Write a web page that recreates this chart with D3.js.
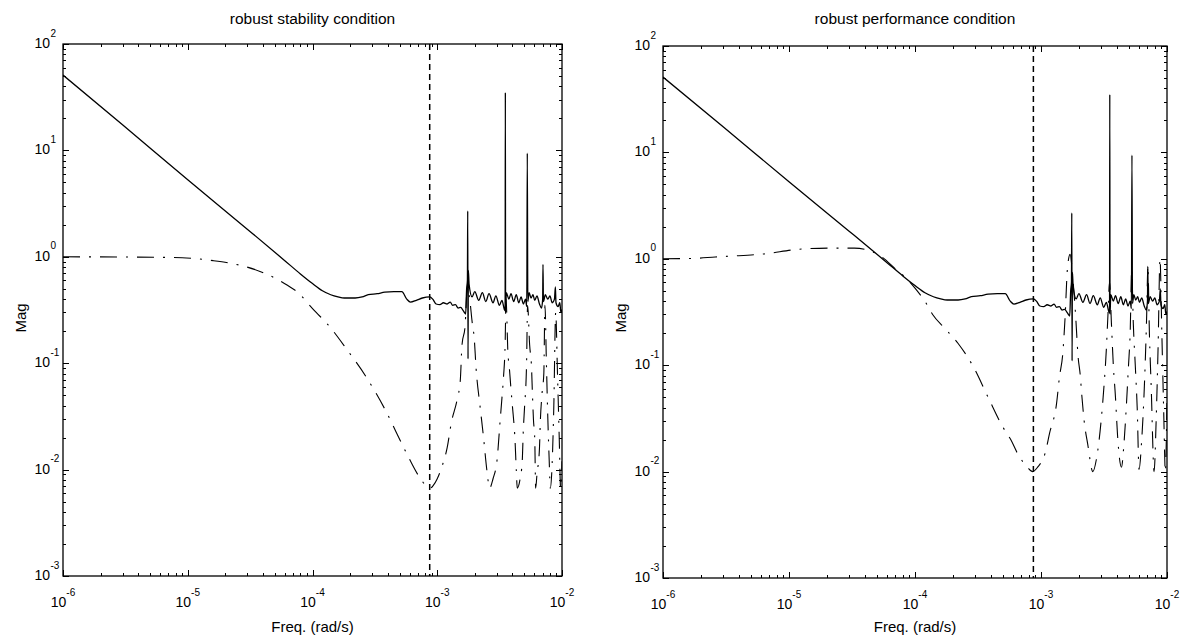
<!DOCTYPE html>
<html>
<head>
<meta charset="utf-8">
<script src="https://cdn.jsdelivr.net/npm/d3@7"></script>
<style>
    body { margin: 0; background: #fff; }
    svg { display: block; font-family: "Liberation Sans", Arial, sans-serif; }
</style>
</head>
<body>
<div id="chart"></div>
<script>
// [freq (rad/s), magnitude] pairs
// solid curve, same in both panels
const solidCurve = [
    [1e-6, 51], [3e-6, 17.4], [1e-5, 5.3], [3e-5, 1.82], [6e-5, 0.92], [8e-5, 0.69],
    [1e-4, 0.56], [1.2e-4, 0.48], [1.4e-4, 0.44], [1.6e-4, 0.42], [1.8e-4, 0.41],
    [2.2e-4, 0.41], [2.5e-4, 0.42], [2.8e-4, 0.44], [3.3e-4, 0.45], [3.8e-4, 0.465],
    [4.5e-4, 0.47], [5.2e-4, 0.47], [5.7e-4, 0.40], [6.1e-4, 0.375], [6.8e-4, 0.39],
    [7.6e-4, 0.41], [8.7e-4, 0.42], [9.2e-4, 0.40], [9.8e-4, 0.36], [1.05e-3, 0.355],
    [1.12e-3, 0.37], [1.2e-3, 0.36], [1.27e-3, 0.375], [1.33e-3, 0.35], [1.4e-3, 0.355],
    [1.47e-3, 0.33], [1.54e-3, 0.335], [1.62e-3, 0.31], [1.69e-3, 0.29], [1.72e-3, 0.5],
    [1.745e-3, 0.6], [1.755e-3, 2.7], [1.765e-3, 0.11], [1.775e-3, 0.75], [1.8e-3, 0.55],
    [1.9e-3, 0.42], [2.0e-3, 0.47], [2.15e-3, 0.39], [2.3e-3, 0.46], [2.45e-3, 0.38],
    [2.6e-3, 0.45], [2.8e-3, 0.37], [2.95e-3, 0.43], [3.15e-3, 0.35], [3.3e-3, 0.39],
    [3.45e-3, 0.32], [3.5e-3, 0.31], [3.515e-3, 35], [3.53e-3, 0.30], [3.58e-3, 0.46],
    [3.75e-3, 0.40], [3.9e-3, 0.45], [4.1e-3, 0.38], [4.3e-3, 0.44], [4.5e-3, 0.37],
    [4.7e-3, 0.42], [4.9e-3, 0.36], [5.1e-3, 0.40], [5.22e-3, 0.34], [5.27e-3, 9.4],
    [5.32e-3, 0.38], [5.45e-3, 0.46], [5.65e-3, 0.41], [5.85e-3, 0.44], [6.05e-3, 0.39],
    [6.3e-3, 0.43], [6.6e-3, 0.36], [6.85e-3, 0.33], [7.0e-3, 0.40], [7.04e-3, 0.85],
    [7.1e-3, 0.38], [7.35e-3, 0.44], [7.7e-3, 0.40], [8.0e-3, 0.43], [8.35e-3, 0.37],
    [8.7e-3, 0.40], [8.85e-3, 0.52], [8.95e-3, 0.37], [9.3e-3, 0.34], [9.6e-3, 0.37],
    [9.8e-3, 0.30], [1e-2, 0.32]
];

// dash-dot curve, robust stability panel
const stabilityDashDot = [
    [1e-6, 1.0], [3e-6, 0.995], [9e-6, 0.98], [1.6e-5, 0.92], [2.2e-5, 0.87], [3e-5, 0.8],
    [4.5e-5, 0.67], [6.3e-5, 0.54], [8e-5, 0.44], [9.1e-5, 0.37], [1.07e-4, 0.30],
    [1.29e-4, 0.24], [1.9e-4, 0.133], [2.7e-4, 0.074], [3.85e-4, 0.036], [5.5e-4, 0.0153],
    [7.2e-4, 0.0085], [8.2e-4, 0.0070], [8.8e-4, 0.0067], [9.3e-4, 0.0071], [1.0e-3, 0.0082],
    [1.1e-3, 0.011], [1.2e-3, 0.016], [1.3e-3, 0.028], [1.44e-3, 0.045], [1.53e-3, 0.069],
    [1.58e-3, 0.15], [1.67e-3, 0.22], [1.74e-3, 0.5], [1.82e-3, 0.4], [1.9e-3, 0.25],
    [1.98e-3, 0.17], [2.05e-3, 0.088], [2.2e-3, 0.04], [2.35e-3, 0.02], [2.5e-3, 0.0098],
    [2.63e-3, 0.0067], [2.8e-3, 0.0082], [3.02e-3, 0.0125], [3.2e-3, 0.03], [3.3e-3, 0.047],
    [3.4e-3, 0.075], [3.5e-3, 0.15], [3.56e-3, 0.4], [3.68e-3, 0.13], [3.8e-3, 0.085],
    [3.9e-3, 0.057], [4.0e-3, 0.04], [4.2e-3, 0.019], [4.3e-3, 0.01], [4.38e-3, 0.0067],
    [4.6e-3, 0.008], [4.8e-3, 0.012], [4.9e-3, 0.024], [5.0e-3, 0.037], [5.2e-3, 0.1],
    [5.3e-3, 0.35], [5.5e-3, 0.15], [5.7e-3, 0.09], [5.8e-3, 0.05], [5.9e-3, 0.03],
    [6.05e-3, 0.019], [6.15e-3, 0.0067], [6.3e-3, 0.009], [6.6e-3, 0.016], [6.7e-3, 0.028],
    [6.9e-3, 0.05], [7.15e-3, 0.08], [7.3e-3, 0.35], [7.5e-3, 0.1], [7.7e-3, 0.03],
    [7.9e-3, 0.012], [8.05e-3, 0.0067], [8.3e-3, 0.01], [8.6e-3, 0.04], [8.9e-3, 0.3],
    [9.2e-3, 0.08], [9.5e-3, 0.02], [9.75e-3, 0.0067], [1e-2, 0.012]
];

// dash-dot curve, robust performance panel
const performanceDashDot = [
    [1e-6, 1.0], [1.8e-6, 1.01], [2.6e-6, 1.04], [3.5e-6, 1.06], [6.3e-6, 1.11], [1.2e-5, 1.23],
    [2.1e-5, 1.26], [3.3e-5, 1.26], [4.3e-5, 1.2], [5.4e-5, 1.05], [7.1e-5, 0.79],
    [8.5e-5, 0.66], [1.0e-4, 0.53], [1.23e-4, 0.38], [1.38e-4, 0.30], [1.74e-4, 0.22],
    [2.2e-4, 0.16], [2.9e-4, 0.097], [3.8e-4, 0.05], [5.0e-4, 0.026], [5.75e-4, 0.02],
    [6.6e-4, 0.0144], [7.8e-4, 0.011], [8.6e-4, 0.01], [9.4e-4, 0.011], [1.08e-3, 0.015],
    [1.17e-3, 0.023], [1.33e-3, 0.044], [1.4e-3, 0.077], [1.49e-3, 0.13], [1.55e-3, 0.27],
    [1.62e-3, 0.8], [1.7e-3, 1.1], [1.8e-3, 0.6], [1.88e-3, 0.3], [1.97e-3, 0.12],
    [2.05e-3, 0.08], [2.1e-3, 0.055], [2.2e-3, 0.03], [2.35e-3, 0.018], [2.58e-3, 0.01],
    [2.75e-3, 0.013], [3.0e-3, 0.03], [3.15e-3, 0.06], [3.3e-3, 0.14], [3.4e-3, 0.3],
    [3.5e-3, 0.6], [3.62e-3, 0.25], [3.75e-3, 0.1], [3.9e-3, 0.05], [4.05e-3, 0.022],
    [4.35e-3, 0.011], [4.55e-3, 0.018], [4.75e-3, 0.04], [4.95e-3, 0.1], [5.1e-3, 0.2],
    [5.25e-3, 0.8], [5.4e-3, 0.25], [5.6e-3, 0.1], [5.8e-3, 0.04], [6.0e-3, 0.0105],
    [6.3e-3, 0.02], [6.6e-3, 0.06], [6.9e-3, 0.3], [7.05e-3, 0.85], [7.25e-3, 0.2],
    [7.5e-3, 0.06], [7.9e-3, 0.01], [8.2e-3, 0.03], [8.5e-3, 0.15], [8.8e-3, 1.0],
    [9.1e-3, 0.2], [9.4e-3, 0.04], [9.7e-3, 0.01], [1e-2, 0.05]
];

// frequency of the vertical dashed marker
const markerFreq = 8.7e-4;

const freqDomain = [1e-6, 1e-2];
const magDomain = [1e-3, 1e2];
const xTickExps = [-6, -5, -4, -3, -2];
const yTickExps = [-3, -2, -1, 0, 1, 2];

const panels = [
    { title: 'robust stability condition', dash: stabilityDashDot, left: 63, top: 44, right: 562, bottom: 576 },
    { title: 'robust performance condition', dash: performanceDashDot, left: 663, top: 46, right: 1167, bottom: 578 }
];

const svg = d3.select('#chart').append('svg')
    .attr('width', 1187)
    .attr('height', 639);

const isDecade = v => Math.abs(Math.log10(v) - Math.round(Math.log10(v))) < 1e-9;

panels.forEach((p, i) => {
    const x = d3.scaleLog().domain(freqDomain).range([p.left, p.right]);
    const y = d3.scaleLog().domain(magDomain).range([p.bottom, p.top]);
    const g = svg.append('g');

    // clip for the curves
    svg.append('clipPath').attr('id', 'clip' + i)
        .append('rect')
        .attr('x', p.left).attr('y', p.top)
        .attr('width', p.right - p.left).attr('height', p.bottom - p.top);

    // ticks, pointing inward on all four sides
    const ticksG = g.append('g').attr('stroke', '#000').attr('stroke-width', 1);
    x.ticks().forEach(v => {
        const len = isDecade(v) ? 6 : 3;
        const px = Math.round(x(v)) + 0.5;
        ticksG.append('line').attr('x1', px).attr('x2', px).attr('y1', p.bottom).attr('y2', p.bottom - len);
        ticksG.append('line').attr('x1', px).attr('x2', px).attr('y1', p.top).attr('y2', p.top + len);
    });
    y.ticks().forEach(v => {
        const len = isDecade(v) ? 6 : 3;
        const py = Math.round(y(v)) + 0.5;
        ticksG.append('line').attr('y1', py).attr('y2', py).attr('x1', p.left).attr('x2', p.left + len);
        ticksG.append('line').attr('y1', py).attr('y2', py).attr('x1', p.right).attr('x2', p.right - len);
    });

    // frame
    g.append('rect')
        .attr('x', p.left).attr('y', p.top)
        .attr('width', p.right - p.left).attr('height', p.bottom - p.top)
        .attr('fill', 'none').attr('stroke', '#000').attr('stroke-width', 1.3);

    // x tick labels
    xTickExps.forEach(e => {
        const t = g.append('text')
            .attr('x', x(Math.pow(10, e)))
            .attr('y', p.bottom + 31)
            .attr('text-anchor', 'middle')
            .attr('font-size', 14);
        t.append('tspan').text('10');
        t.append('tspan').attr('font-size', 10).attr('dy', -11.5).text(e);
    });

    // y tick labels
    yTickExps.forEach(e => {
        const ty = y(Math.pow(10, e));
        g.append('text')
            .attr('x', p.left - 13).attr('y', ty + 4)
            .attr('text-anchor', 'end')
            .attr('font-size', 14)
            .text('10');
        g.append('text')
            .attr('x', p.left - 12.5).attr('y', ty - 7.5)
            .attr('font-size', 10)
            .text(e);
    });

    // titles
    g.append('text')
        .attr('x', (p.left + p.right) / 2).attr('y', 24)
        .attr('text-anchor', 'middle')
        .attr('font-size', 15.5)
        .text(p.title);

    g.append('text')
        .attr('x', (p.left + p.right) / 2).attr('y', 632)
        .attr('text-anchor', 'middle')
        .attr('font-size', 15)
        .text('Freq. (rad/s)');

    g.append('text')
        .attr('transform', `translate(${p.left - 37},318) rotate(-90)`)
        .attr('text-anchor', 'middle')
        .attr('font-size', 15)
        .text('Mag');

    const line = d3.line()
        .x(d => x(d[0]))
        .y(d => y(d[1]))
        .curve(d3.curveMonotoneX);
    const curves = g.append('g').attr('clip-path', `url(#clip${i})`);

    // vertical dashed marker
    curves.append('line')
        .attr('x1', x(markerFreq)).attr('x2', x(markerFreq))
        .attr('y1', p.top).attr('y2', p.bottom)
        .attr('stroke', '#000').attr('stroke-width', 1.5)
        .attr('stroke-dasharray', '6,4');

    curves.append('path')
        .datum(p.dash)
        .attr('d', line)
        .attr('fill', 'none').attr('stroke', '#000').attr('stroke-width', 1.1)
        .attr('stroke-dasharray', '17,9,2,9');

    curves.append('path')
        .datum(solidCurve)
        .attr('d', line)
        .attr('fill', 'none').attr('stroke', '#000').attr('stroke-width', 1.3);
});
</script>
</body>
</html>
